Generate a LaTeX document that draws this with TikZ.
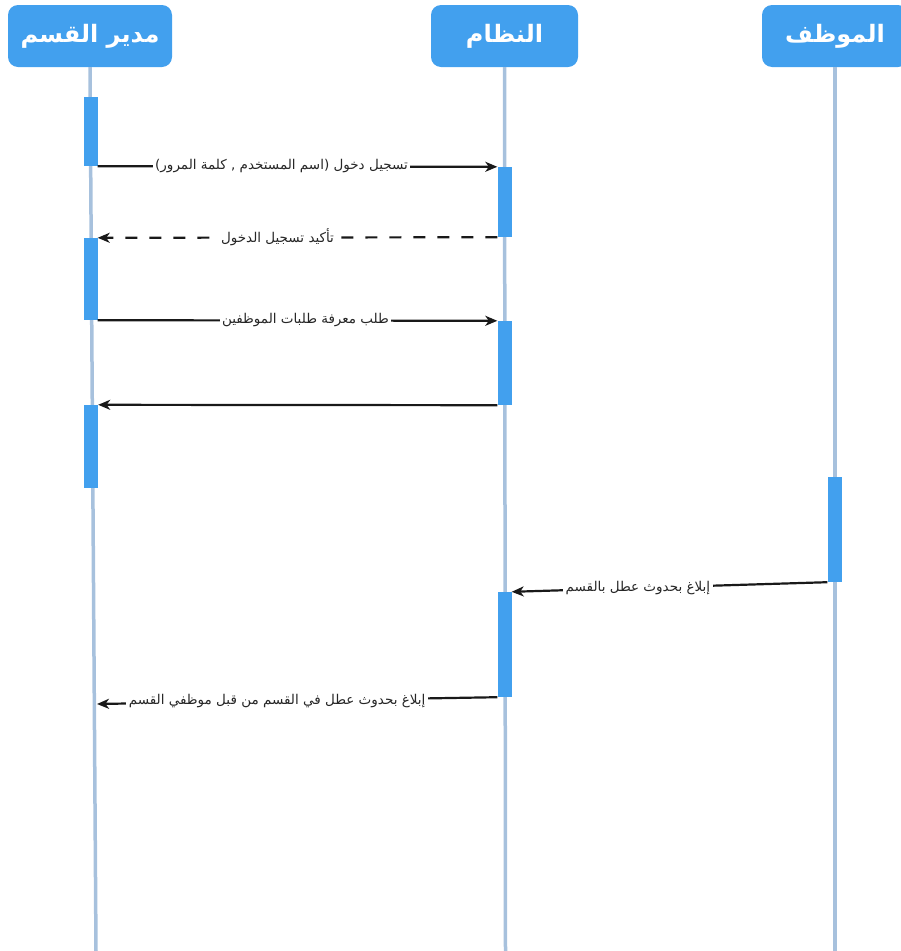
\documentclass[tikz,border=0pt]{standalone}
\usepackage{fontspec}
\newfontfamily\arabicfont[Script=Arabic]{DejaVu Sans}
\TeXXeTstate=1
\usetikzlibrary{arrows.meta}
\definecolor{actblue}{HTML}{42A0EE}
\definecolor{lifeblue}{HTML}{A7C1DD}

\begin{document}
\begin{tikzpicture}[x=1pt,y=-1pt,
  header/.style={draw=none, fill=actblue, rounded corners=10pt, text=white,
    font=\arabicfont\bfseries\fontsize{24}{28}\selectfont, inner sep=0pt,
    minimum height=62pt},
  lifeline/.style={lifeblue, line width=3.5pt},
  actbar/.style={fill=actblue, draw=none, minimum width=14pt, inner sep=0pt},
  msg/.style={black!90, line width=2.2pt, -{Stealth[length=12pt,width=10pt,inset=3.5pt]}},
  reply/.style={msg, dash pattern=on 12pt off 12pt},
  lbl/.style={fill=white, font=\arabicfont\fontsize{13.5}{16}\selectfont,
    inner sep=2.5pt, text=black!85},
]
\useasboundingbox (0,0) rectangle (901,951);
\clip (0,0) rectangle (901,951);

% participants
\node[header, minimum width=164pt] (mgr) at (90,36) {\beginR مدير القسم\endR};
\node[header, minimum width=147pt] (sys) at (504.5,36) {\beginR النظام\endR};
\node[header, minimum width=146pt] (emp) at (835,36) {\beginR الموظف\endR};

% lifeline ends
\coordinate (mgrEnd) at (96,951);
\coordinate (sysEnd) at (505.5,951);
\coordinate (empEnd) at (835,951);

\draw[lifeline] (mgr.south) -- (mgrEnd);
\draw[lifeline] (sys.south) -- (sysEnd);
\draw[lifeline] (emp.south) -- (empEnd);

% activation bars
\node[actbar, minimum height=69pt] (a1) at (90.5,131.5) {};
\node[actbar, minimum height=82pt] (a2) at (90.5,279) {};
\node[actbar, minimum height=83pt] (a3) at (91,446.5) {};
\node[actbar, minimum height=70pt] (b1) at (504.5,202) {};
\node[actbar, minimum height=84pt] (b2) at (504.5,363) {};
\node[actbar, minimum height=105pt] (b3) at (504.5,644.5) {};
\node[actbar, minimum height=105pt] (c1) at (834.5,529.5) {};

\coordinate (mgrNotice) at (97,704);

% messages
\draw[msg] (a1.south east) -- (b1.north west)
  node[lbl, pos=0.46] {\beginR تسجيل دخول (اسم المستخدم , كلمة المرور)\endR};
\draw[reply] (b1.south west) -- (a2.north east)
  node[lbl, pos=0.55] {\beginR تأكيد تسجيل الدخول\endR};
\draw[msg] (a2.south east) -- (b2.north west)
  node[lbl, pos=0.52] {\beginR طلب معرفة طلبات الموظفين\endR};
\draw[msg] (b2.south west) -- (a3.north east);
\draw[msg] (c1.south west) -- (b3.north east)
  node[lbl, pos=0.6] {\beginR إبلاغ بحدوث عطل بالقسم\endR};
\draw[msg] (b3.south west) -- (mgrNotice)
  node[lbl, pos=0.55] {\beginR إبلاغ بحدوث عطل في القسم من قبل موظفي القسم\endR};
\end{tikzpicture}
\end{document}
